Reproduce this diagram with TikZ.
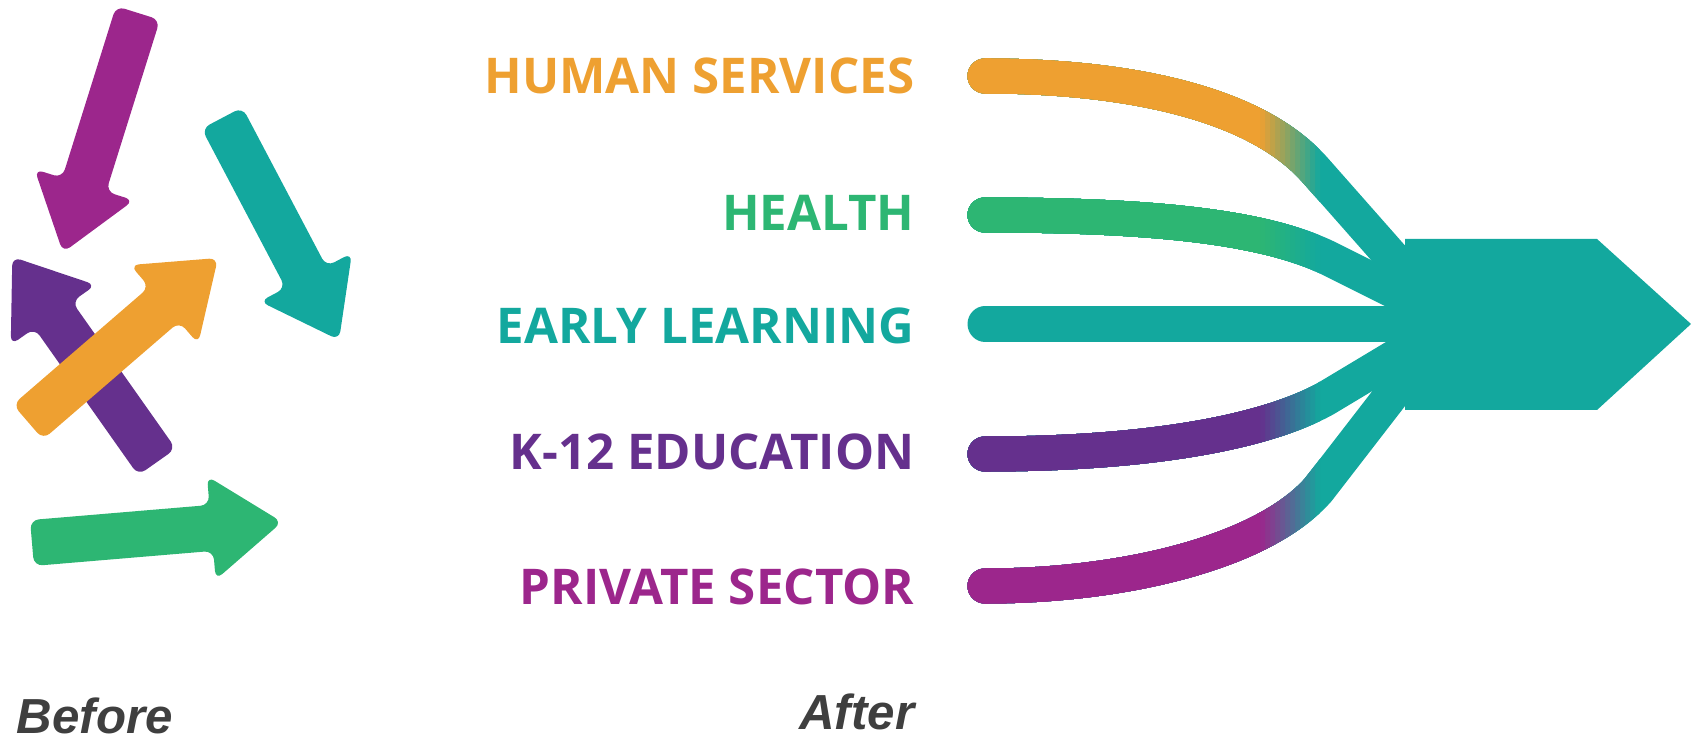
\documentclass[tikz,border=0pt]{standalone}
\usepackage{fontspec}
\setmainfont{Fira Sans}
\newfontfamily\sectorfont{Open Sans}
\newfontfamily\captionfont{Liberation Sans}
\usetikzlibrary{calc}

\definecolor{orangeC}{HTML}{EEA031}
\definecolor{greenC}{HTML}{2DB673}
\definecolor{tealC}{HTML}{13A89E}
\definecolor{purpleC}{HTML}{65308D}
\definecolor{magentaC}{HTML}{9C268C}
\definecolor{textgray}{HTML}{3F3F3F}

\tikzset{
  sector/.style={font=\fontsize{14}{16}\sectorfont\bfseries, anchor=east, inner sep=0pt},
  strand/.style={line width=0.35cm, line cap=round},
  caption/.style={font=\fontsize{14}{17}\captionfont\bfseries\itshape, text=textgray, inner sep=0pt}
}

% fat arrow: colour, tail point, angle
\newcommand{\fatarrow}[3]{%
  \fill[#1, rounded corners=2.5pt, shift={(#2)}, rotate=#3]
    (0,-23) -- (180,-23) -- (180,-52) -- (251,0) -- (180,52) -- (180,23) -- (0,23) -- cycle;}

% strand: colour, path (fades into teal between x=1260 and x=1320)
\newcommand{\strand}[2]{%
  \draw[strand, tealC] #2;
  \foreach \i in {11,...,0}{
    \pgfmathsetmacro{\pmix}{100-(\i+0.5)*100/12}
    \begin{scope}
      \clip (0,0) rectangle (1265+5*\i,740);
      \draw[strand, #1!\pmix!tealC] #2;
    \end{scope}}
  \begin{scope}
    \clip (0,0) rectangle (1260,740);
    \draw[strand, #1] #2;
  \end{scope}}

\begin{document}
\begin{tikzpicture}[x=0.01cm, y=-0.01cm]
  \useasboundingbox (0,0) rectangle (1691,740);

  % before
  \fatarrow{magentaC}{138,13}{-107.4}
  \fatarrow{tealC}{222,118}{-62.2}
  \fatarrow{purpleC}{157,462}{125.2}
  \fatarrow{orangeC}{28,422}{40.8}
  \fatarrow{greenC}{32,543}{4.8}

  % after
  \node[sector, text=orangeC] (hs) at (915,76) {HUMAN SERVICES};
  \node[sector, text=greenC] (health) at (915,213) {HEALTH};
  \node[sector, text=tealC] (early) at (915,326) {EARLY LEARNING};
  \node[sector, text=purpleC] (k12) at (915,452) {K-12 EDUCATION};
  \node[sector, text=magentaC] (private) at (915,587) {PRIVATE SECTOR};

  \fill[tealC] (1405,239) -- (1597,239) -- (1691,324) -- (1597,410) -- (1405,410) -- cycle;

  \strand{orangeC}{($(hs.east)+(70,0)$) .. controls +(140,0) and +(-60,-68) .. (1315,170) -- (1420,289)}
  \strand{greenC}{($(health.east)+(70,2)$) .. controls +(150,0) and +(-70,-35) .. (1330,259) -- (1420,304)}
  \draw[strand, tealC] ($(early.east)+(70,-2)$) -- (1420,324);
  \strand{purpleC}{($(k12.east)+(70,2)$) .. controls +(165,0) and +(-60,33) .. (1325,399) -- (1420,342)}
  \strand{magentaC}{($(private.east)+(70,-1)$) .. controls +(140,0) and +(-55,62) .. (1318,490) -- (1420,358)}

  \node[caption, anchor=base west] (before) at (16,733) {Before};
  \node[caption, anchor=base east] (after) at (915,729) {After};
\end{tikzpicture}
\end{document}
